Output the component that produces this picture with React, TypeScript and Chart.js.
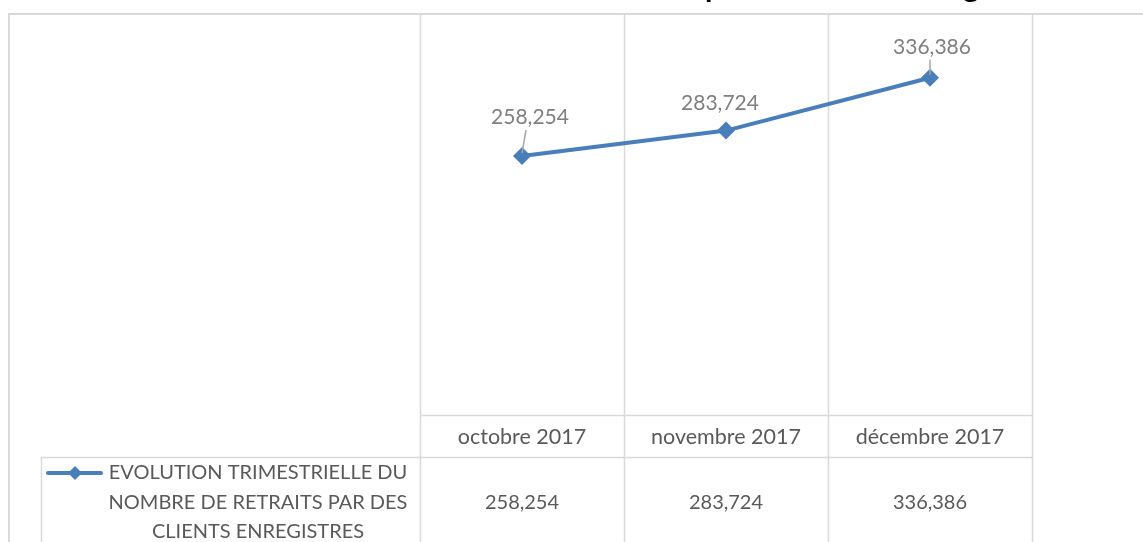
import React, { useEffect, useRef } from 'react';
import { Chart, registerables } from 'chart.js';

Chart.register(...registerables);

const categories = ['octobre 2017', 'novembre 2017', 'décembre 2017'];
const values = [258254, 283724, 336386];
const seriesLabelLines = ['EVOLUTION TRIMESTRIELLE DU', 'NOMBRE DE RETRAITS PAR DES', 'CLIENTS ENREGISTRES'];
const seriesName = seriesLabelLines.join(' ');
const titleText = 'Evolution trimestrielle du nombre de retraits par des clients enregistrés';
const yMin = 0;
const yMax = 400000;

const FONT = 'Lato, "Open Sans", sans-serif';
const GRID = '#d9d9d9';
const TEXT = '#595959';
const LINE = '#4a7ebb';

const fmt = (v: number) => v.toLocaleString('en-US');

const tablePlugin = {
  id: 'excelTable',
  beforeDatasetsDraw(chart: any) {
    const { ctx, chartArea, scales } = chart;
    const x = scales.x;
    const n = categories.length;
    const bounds: number[] = [chartArea.left];
    for (let i = 0; i < n - 1; i++) {
      bounds.push((x.getPixelForValue(i) + x.getPixelForValue(i + 1)) / 2);
    }
    bounds.push(chartArea.right);
    const H = chart.height;
    const catTop = chartArea.bottom;
    const valTop = catTop + 42;
    const legendLeft = 41;
    ctx.save();
    ctx.strokeStyle = GRID;
    ctx.lineWidth = 2;
    // outer chart border
    ctx.beginPath();
    ctx.moveTo(8, 14);
    ctx.lineTo(chart.width, 14);
    ctx.moveTo(9, 14);
    ctx.lineTo(9, H);
    ctx.stroke();
    ctx.lineWidth = 1.5;
    ctx.beginPath();
    bounds.forEach((b) => {
      ctx.moveTo(Math.round(b) + 0.5, chartArea.top);
      ctx.lineTo(Math.round(b) + 0.5, H);
    });
    ctx.moveTo(chartArea.left, catTop + 0.5);
    ctx.lineTo(chartArea.right, catTop + 0.5);
    ctx.moveTo(legendLeft, valTop + 0.5);
    ctx.lineTo(chartArea.right, valTop + 0.5);
    ctx.moveTo(legendLeft + 0.5, valTop);
    ctx.lineTo(legendLeft + 0.5, H);
    ctx.stroke();

    // category and value rows
    ctx.fillStyle = TEXT;
    ctx.textAlign = 'center';
    ctx.textBaseline = 'middle';
    categories.forEach((c, i) => {
      const cx = x.getPixelForValue(i);
      ctx.font = `21.5px ${FONT}`;
      ctx.fillText(c, cx, catTop + 22);
      ctx.font = `20px ${FONT}`;
      ctx.fillText(fmt(values[i]), cx, valTop + 46);
    });

    // legend key
    const ky = valTop + 16;
    ctx.strokeStyle = LINE;
    ctx.lineWidth = 4;
    ctx.lineCap = 'round';
    ctx.beginPath();
    ctx.moveTo(48, ky);
    ctx.lineTo(101, ky);
    ctx.stroke();
    ctx.fillStyle = LINE;
    ctx.beginPath();
    ctx.moveTo(75, ky - 7);
    ctx.lineTo(82, ky);
    ctx.lineTo(75, ky + 7);
    ctx.lineTo(68, ky);
    ctx.closePath();
    ctx.fill();
    ctx.fillStyle = TEXT;
    ctx.font = `20px ${FONT}`;
    seriesLabelLines.forEach((l, i) => {
      ctx.fillText(l, 258, ky + i * 29.5);
    });

    // title (cropped at top)
    ctx.fillStyle = '#000000';
    ctx.font = `bold 30px ${FONT}`;
    ctx.textAlign = 'left';
    ctx.textBaseline = 'alphabetic';
    const pIdx = titleText.indexOf('par');
    const gIdx = titleText.indexOf('g');
    const wSpan = ctx.measureText(titleText.slice(pIdx, gIdx)).width;
    const scale = 255 / wSpan;
    ctx.font = `bold ${Math.round(30 * scale)}px ${FONT}`;
    const wPre2 = ctx.measureText(titleText.slice(0, pIdx)).width;
    ctx.fillText(titleText, 705 - wPre2, -3);
    ctx.restore();
  },
  afterDatasetsDraw(chart: any) {
    const { ctx } = chart;
    const meta = chart.getDatasetMeta(0);
    const offs = [[8, -40], [-6, -28], [2, -32]];
    ctx.save();
    ctx.font = `21px ${FONT}`;
    ctx.fillStyle = '#7f7f7f';
    ctx.textAlign = 'center';
    ctx.textBaseline = 'middle';
    ctx.strokeStyle = '#a6a6a6';
    ctx.lineWidth = 1.5;
    meta.data.forEach((pt: any, i: number) => {
      const lx = pt.x + offs[i][0];
      const ly = pt.y + offs[i][1];
      if (i !== 1) {
        ctx.beginPath();
        ctx.moveTo(lx - 4 + (i === 2 ? 2 : 0), ly + 14);
        ctx.lineTo(pt.x, pt.y - 3);
        ctx.stroke();
      }
      ctx.fillText(fmt(values[i]), lx, ly + 1);
    });
    ctx.restore();
  },
};

export default function App() {
  const ref = useRef<HTMLCanvasElement>(null);
  useEffect(() => {
    if (!ref.current) return;
    const chart = new Chart(ref.current, {
      type: 'line',
      data: {
        labels: categories,
        datasets: [
          {
            label: seriesName,
            data: values,
            borderColor: LINE,
            backgroundColor: LINE,
            borderWidth: 4,
            pointStyle: 'rectRot',
            pointRadius: 9,
            pointBorderWidth: 0,
            pointBackgroundColor: LINE,
            tension: 0,
          },
        ],
      },
      options: {
        animation: false,
        responsive: false,
        maintainAspectRatio: false,
        layout: { padding: { left: 420, right: 111, top: 14, bottom: 127 } },
        plugins: { legend: { display: false }, title: { display: false }, tooltip: { enabled: false } },
        scales: {
          x: { display: false, offset: true },
          y: { display: false, min: yMin, max: yMax },
        },
      },
      plugins: [tablePlugin],
    });
    return () => chart.destroy();
  }, []);
  return (
    <div style={{ position: 'absolute', left: 0, top: 0, width: 1143, height: 542, background: '#fff' }}>
      <canvas ref={ref} width={1143} height={542} style={{ width: 1143, height: 542 }} />
    </div>
  );
}
